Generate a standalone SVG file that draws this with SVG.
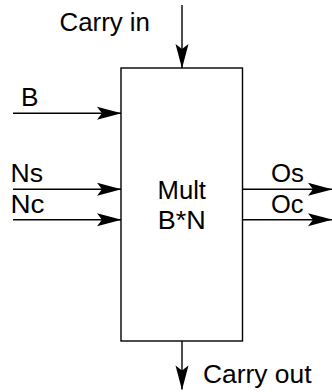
<svg xmlns="http://www.w3.org/2000/svg" width="332" height="392" viewBox="0 0 332 392">
<style>
.t{font-family:"Liberation Sans",Arial,sans-serif;font-size:25px;fill:#000}
.ln{stroke:#000;stroke-width:1.4;fill:none}
.box{stroke:#000;stroke-width:1.4;fill:#fff}
</style>
<defs>
<marker id="ah" markerUnits="userSpaceOnUse" viewBox="-26 -8 27 16" refX="0" refY="0" markerWidth="27" markerHeight="16" orient="auto">
<path d="M0.5,0 L-24,-6.5 L-19,0 L-24,6.5 Z" fill="#000"/>
</marker>
</defs>
<g id="mult">
<rect class="box" x="121" y="68" width="121.5" height="273"/>
<text class="t" x="181.75" y="198.5" text-anchor="middle" textLength="48.5" lengthAdjust="spacingAndGlyphs">Mult</text>
<text class="t" x="181.75" y="228.5" text-anchor="middle" textLength="48" lengthAdjust="spacingAndGlyphs">B*N</text>
</g>
<g id="connectors">
<line class="ln" x1="182" y1="5" x2="182" y2="68" marker-end="url(#ah)"/>
<line class="ln" x1="13" y1="113.3" x2="121" y2="113.3" marker-end="url(#ah)"/>
<line class="ln" x1="13" y1="189.3" x2="121" y2="189.3" marker-end="url(#ah)"/>
<line class="ln" x1="13" y1="219.7" x2="121" y2="219.7" marker-end="url(#ah)"/>
<line class="ln" x1="242.5" y1="189.3" x2="332" y2="189.3" marker-end="url(#ah)"/>
<line class="ln" x1="242.5" y1="219.7" x2="332" y2="219.7" marker-end="url(#ah)"/>
<line class="ln" x1="182" y1="341" x2="182" y2="389.5" marker-end="url(#ah)"/>
</g>
<g id="labels">
<text class="t" x="59.5" y="31.3" textLength="90.5" lengthAdjust="spacingAndGlyphs">Carry in</text>
<text class="t" x="21" y="105.7" textLength="17.5" lengthAdjust="spacingAndGlyphs">B</text>
<text class="t" x="10.5" y="182" textLength="32.5" lengthAdjust="spacingAndGlyphs">Ns</text>
<text class="t" x="10.5" y="213" textLength="34" lengthAdjust="spacingAndGlyphs">Nc</text>
<text class="t" x="271" y="182" textLength="33" lengthAdjust="spacingAndGlyphs">Os</text>
<text class="t" x="271" y="213" textLength="32.5" lengthAdjust="spacingAndGlyphs">Oc</text>
<text class="t" x="203" y="382.7" textLength="108.5" lengthAdjust="spacingAndGlyphs">Carry out</text>
</g>
</svg>
